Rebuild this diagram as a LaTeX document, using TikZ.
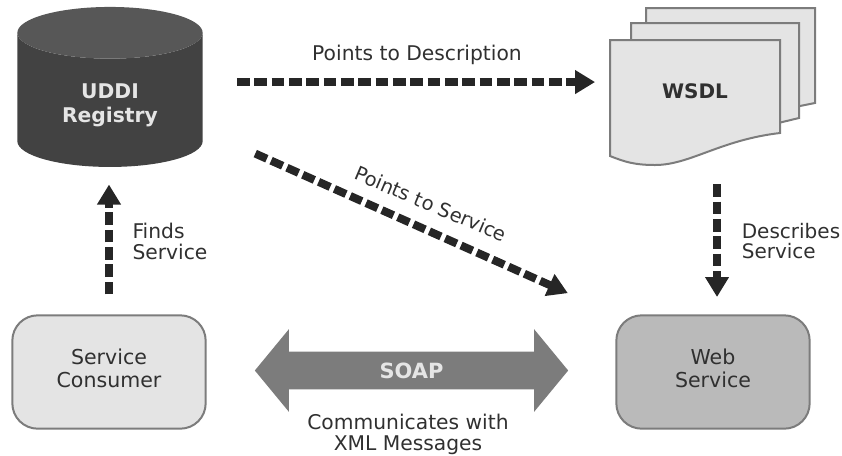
\documentclass[tikz,border=0pt]{standalone}
\usepackage{fontspec}
\setmainfont{DejaVu Sans}
\usepackage[x11names]{xcolor}
\usetikzlibrary{arrows.meta,shapes.geometric,shapes.arrows}
\definecolor{pagefill}{HTML}{E4E4E4}
\definecolor{edgegray}{HTML}{7C7C7C}
\definecolor{inkgray}{HTML}{303030}

\begin{document}
\begin{tikzpicture}[
	x=0.75pt, y=-0.75pt,
	every node/.style={align=center, text=inkgray, font=\fontsize{15.2}{15.7}\selectfont},
	box/.style={draw=edgegray, line width=1.5pt, rectangle, rounded corners=19pt, minimum width=145pt, minimum height=85pt},
	page/.style={draw=edgegray, fill=pagefill, line width=1.5pt},
	arrow/.style={-{Triangle[length=15pt,width=17pt]}, line width=6pt, draw=black!85, dash pattern=on 9.5pt off 3.5pt}
	]
	
	\useasboundingbox (0,0) rectangle (842,455);
	
	% Stacked pages
	\draw[page] (646,8) -- (815,8) -- (815,103) -- (780,110) -- (646,110) -- cycle;
	\draw[page] (631,23) -- (799,23) -- (799,118) -- (770,125) -- (631,125) -- cycle;
	\draw[page] (610,40) -- (780,40) -- (780,133) .. controls (720,140) and (690,165) .. (655,165) .. controls (635,165) and (625,162) .. (610,156) -- cycle;
	
	% Top nodes
	\node[cylinder, shape border rotate=90, aspect=0.54, draw=none, cylinder uses custom fill, cylinder body fill=black!74, cylinder end fill=black!66, minimum width=139pt, minimum height=120pt, inner sep=0pt, text=white!90!black, font=\fontsize{15.2}{18}\selectfont\bfseries] (uddi) at (110,100) {\rule{0pt}{19pt}UDDI\\Registry};
	\node[minimum width=127.5pt, minimum height=76.5pt, inner sep=0pt, font=\fontsize{15}{16}\selectfont\bfseries] (wsdl) at (695,91) {WSDL};
	
	% Bottom nodes
	\node[box, fill=pagefill, font=\fontsize{15.4}{17.2}\selectfont] (consumer) at (109,372) {Service\\Consumer\rule[-6pt]{0pt}{6pt}};
	\node[box, fill=black!27, font=\fontsize{15.4}{17.2}\selectfont] (web) at (713,372) {Web\\Service\rule[-6pt]{0pt}{6pt}};
	\node[double arrow, double arrow tip angle=101, double arrow head extend=15pt, double arrow head indent=0pt, fill=edgegray, minimum height=235pt, minimum width=62pt, inner xsep=0pt, inner ysep=6.5pt, text=white!90!black, font=\fontsize{15.7}{16}\selectfont\bfseries] (soap) at (411.5,370.5) {SOAP};
	
	% Arrows
	\draw[arrow, shorten <=25.5pt, shorten >=11pt] (uddi.east |- wsdl.174) -- (wsdl.174);
	\draw[arrow, shorten <=43pt, shorten >=39pt] (uddi.-18) -- (web.north west);
	\draw[arrow, shorten <=31.5pt, shorten >=13pt] (web.86 |- wsdl.south) -- (web.86);
	\draw[arrow, shorten <=15pt, shorten >=13pt] (consumer.north) -- (consumer.north |- uddi.south);
	
	% Labels
	\node (points2desc) at (417,55) {Points to Description};
	\node[rotate=-23, font=\fontsize{14.6}{15}\selectfont] (points2serv) at (431,204) {Points to Service};
	\node[align=left] (finds) at (170,241) {Finds\\Service};
	\node[align=left, font=\fontsize{15}{15.7}\selectfont] (describes) at (791,241) {Describes\\Service};
	\node (communicates) at (408,434) {Communicates with\\XML Messages};
	
\end{tikzpicture}
\end{document}
